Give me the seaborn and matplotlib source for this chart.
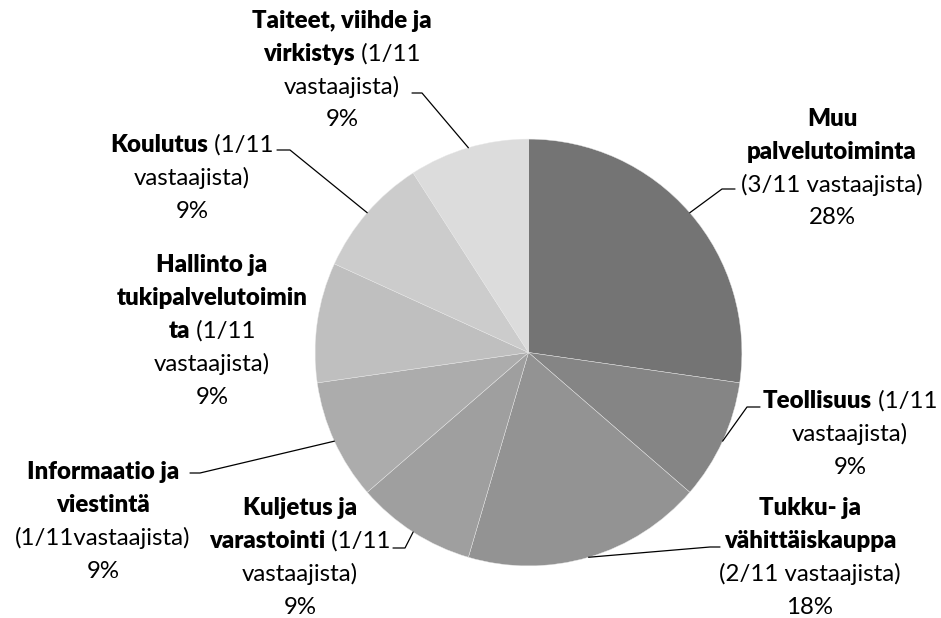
import numpy as np
import seaborn as sns
import matplotlib.pyplot as plt
from matplotlib.offsetbox import TextArea, HPacker, AnnotationBbox

# Toimialat (myötäpäivään klo 12:sta)
toimialat = ["Muu palvelutoiminta", "Teollisuus", "Tukku- ja vähittäiskauppa",
             "Kuljetus ja varastointi", "Informaatio ja viestintä",
             "Hallinto ja tukipalvelutoiminta", "Koulutus",
             "Taiteet, viihde ja virkistys"]
vastaajat = [3, 1, 2, 1, 1, 1, 1, 1]
osuudet = ["28%", "9%", "18%", "9%", "9%", "9%", "9%", "9%"]
harmaat = ["#747474", "#858585", "#939393", "#9f9f9f",
           "#acacac", "#bfbfbf", "#cccccc", "#dcdcdc"]

# Label-rivit: (teksti, lihavoitu)
rivit = [
    [[("Muu", True)], [("palvelutoiminta", True)], [("(3/11 vastaajista)", False)]],
    [[("Teollisuus", True), (" (1/11", False)], [("vastaajista)", False)]],
    [[("Tukku- ja", True)], [("vähittäiskauppa", True)], [("(2/11 vastaajista)", False)]],
    [[("Kuljetus ja", True)], [("varastointi", True), (" (1/11", False)], [("vastaajista)", False)]],
    [[("Informaatio ja", True)], [("viestintä", True)], [("(1/11vastaajista)", False)]],
    [[("Hallinto ja", True)], [("tukipalvelutoimin", True)], [("ta", True), (" (1/11", False)],
     [("vastaajista)", False)]],
    [[("Koulutus", True), (" (1/11", False)], [("vastaajista)", False)]],
    [[("Taiteet, viihde ja", True)], [("virkistys", True), (" (1/11", False)], [("vastaajista)", False)]],
]

# sijainnit pikseleinä (keskikohta x, ylimmän rivin y), vipuviivan kulma
paikat = [(832, 119), (850, 401), (810, 508), (300, 508),
          (103, 472), (212, 265), (192, 145), (342, 21)]
kulmat = [(722, 735, 189), (747, 760, 407), (710, 720, 547), (405, 393, 548),
          (200, 190, 473), None, (290, 277, 150), (422, 412, 93)]

sns.set_theme(style="white")
plt.rcParams['font.family'] = ['Lato', 'DejaVu Sans']

W, H = 941, 618
cx, cy, r = 528.5, 352.5, 213.4
fig = plt.figure(figsize=(W / 100, H / 100), dpi=100)
ax = fig.add_axes([(cx - r) / W, (H - cy - r) / H, 2 * r / W, 2 * r / H])

vari = sns.color_palette(harmaat)
wedges, _ = ax.pie(vastaajat, colors=vari, startangle=90, counterclock=False,
                   radius=1, wedgeprops=dict(edgecolor="#e8e8e8", linewidth=0.3))
ax.set_xlim(-1, 1)
ax.set_ylim(-1, 1)
ax.axis("off")

fs = 17.3
pitch = 33


def px2data(px, py):
    return (px - cx) / r, (cy - py) / r


for w, lines, pct, (x0, y0), k in zip(wedges, rivit, osuudet, paikat, kulmat):
    lines = lines + [[(pct, False)]]
    for i, line in enumerate(lines):
        parts = [TextArea(t, textprops=dict(fontsize=fs, color="black",
                                            fontweight="heavy" if b else "normal"))
                 for t, b in line]
        box = HPacker(children=parts, align="baseline", pad=0, sep=0)
        ab = AnnotationBbox(box, (x0, H - (y0 + i * pitch)), xycoords="figure pixels",
                            box_alignment=(0.5, 0.5), frameon=False, pad=0)
        fig.add_artist(ab)
    if k is not None:
        mid = np.deg2rad((w.theta1 + w.theta2) / 2)
        ex, ey = np.cos(mid), np.sin(mid)
        kx, ky = px2data(k[0], k[2])
        tx, _ty = px2data(k[1], k[2])
        ax.plot([ex, kx, tx], [ey, ky, ky], color="black", lw=0.9, clip_on=False)

fig.savefig("out.png", dpi=100, facecolor="white")
